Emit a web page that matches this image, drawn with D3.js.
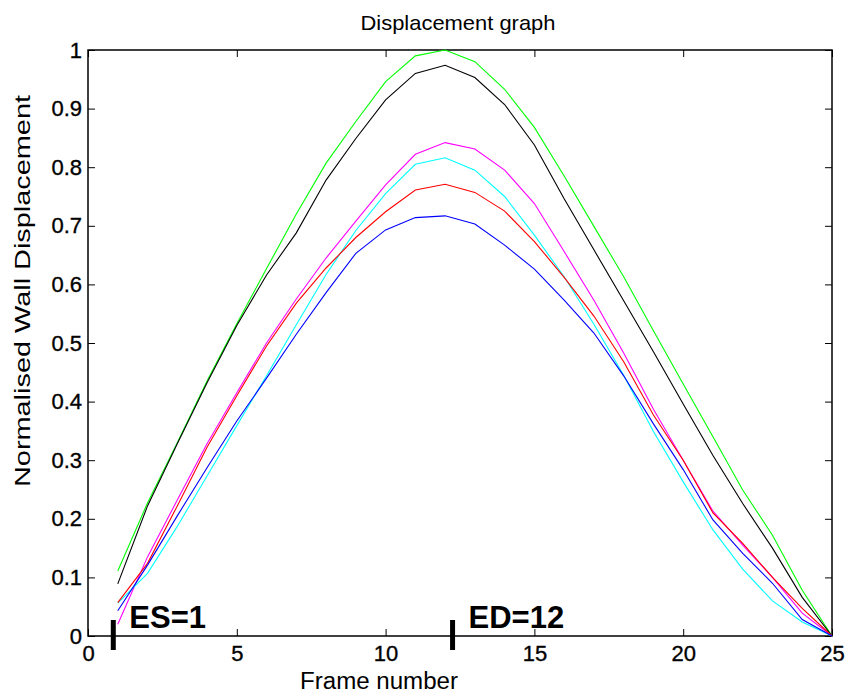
<!DOCTYPE html>
<html>
<head>
<meta charset="utf-8">
<script src="https://cdn.jsdelivr.net/npm/d3@7"></script>
<style>
  html, body { margin: 0; padding: 0; background: #fff; }
  svg { display: block; font-family: Arial, "Liberation Sans", sans-serif; }
</style>
</head>
<body>
<svg id="chart" width="846" height="696"></svg>
<script>
// Frame indices for the cardiac cycle
const frames = d3.range(1, 26);

// Normalised wall displacement per segment, one array per trace
const greenSeries   = [0.111, 0.227, 0.330, 0.435, 0.533, 0.627, 0.720, 0.807, 0.878, 0.946, 0.990, 1.000, 0.980, 0.933, 0.868, 0.785, 0.699, 0.613, 0.521, 0.430, 0.340, 0.249, 0.172, 0.078, 0.000];
const blackSeries   = [0.089, 0.222, 0.328, 0.432, 0.530, 0.616, 0.688, 0.778, 0.849, 0.915, 0.960, 0.974, 0.953, 0.907, 0.838, 0.746, 0.659, 0.572, 0.485, 0.396, 0.308, 0.226, 0.150, 0.066, 0.000];
const magentaSeries = [0.020, 0.135, 0.232, 0.328, 0.415, 0.500, 0.575, 0.645, 0.708, 0.770, 0.822, 0.842, 0.831, 0.795, 0.738, 0.656, 0.573, 0.483, 0.387, 0.300, 0.213, 0.155, 0.100, 0.039, 0.000];
const cyanSeries    = [0.056, 0.107, 0.187, 0.273, 0.359, 0.444, 0.531, 0.617, 0.692, 0.755, 0.805, 0.816, 0.795, 0.750, 0.684, 0.613, 0.532, 0.445, 0.349, 0.263, 0.181, 0.114, 0.060, 0.024, 0.000];
const redSeries     = [0.057, 0.124, 0.222, 0.322, 0.410, 0.495, 0.568, 0.628, 0.680, 0.724, 0.761, 0.771, 0.757, 0.725, 0.673, 0.612, 0.546, 0.468, 0.377, 0.300, 0.210, 0.158, 0.100, 0.047, 0.000];
const blueSeries    = [0.043, 0.121, 0.205, 0.287, 0.367, 0.440, 0.515, 0.586, 0.653, 0.693, 0.714, 0.717, 0.703, 0.667, 0.626, 0.573, 0.517, 0.444, 0.362, 0.284, 0.198, 0.141, 0.090, 0.028, 0.000];

const seriesColors = ["#00ff00", "#000000", "#ff00ff", "#00ffff", "#ff0000", "#0000ff"];
const seriesList = [greenSeries, blackSeries, magentaSeries, cyanSeries, redSeries, blueSeries];

// Axis ticks
const xTicks = [0, 5, 10, 15, 20, 25];
const yTicks = [0, 0.1, 0.2, 0.3, 0.4, 0.5, 0.6, 0.7, 0.8, 0.9, 1];

// End-systole / end-diastole annotations
const phaseLabels = ["ES=1", "ED=12"];
const phaseMarks = [0.85, 12.25];

const svg = d3.select("#chart");
const plotLeft = 88, plotRight = 832, plotTop = 50, plotBottom = 636;

const x = d3.scaleLinear().domain([0, 25]).range([plotLeft, plotRight]);
const y = d3.scaleLinear().domain([0, 1]).range([plotBottom, plotTop]);

const tickLen = 7;

// Bottom axis: ticks point inward, labels below
const xAxis = d3.axisBottom(x).tickValues(xTicks).tickFormat(d3.format("d"))
  .tickSizeInner(-tickLen).tickSizeOuter(0).tickPadding(9);
const gx = svg.append("g").attr("transform", `translate(0,${plotBottom})`).call(xAxis);
gx.selectAll("text").attr("font-size", 22).attr("fill", "#000")
  .attr("stroke", "#000").attr("stroke-width", 0.35);

const yAxis = d3.axisLeft(y).tickValues(yTicks).tickFormat(d => d === 0 || d === 1 ? String(d) : d3.format(".1f")(d))
  .tickSizeInner(-tickLen).tickSizeOuter(0).tickPadding(6);
const gy = svg.append("g").attr("transform", `translate(${plotLeft},0)`).call(yAxis);
gy.selectAll("text").attr("font-size", 22).attr("fill", "#000")
  .attr("stroke", "#000").attr("stroke-width", 0.35);

// Mirrored ticks on the top and right edges
svg.append("g").attr("transform", `translate(0,${plotTop})`)
  .call(d3.axisTop(x).tickValues(xTicks).tickSizeInner(-tickLen).tickSizeOuter(0).tickFormat(""));
svg.append("g").attr("transform", `translate(${plotRight},0)`)
  .call(d3.axisRight(y).tickValues(yTicks).tickSizeInner(-tickLen).tickSizeOuter(0).tickFormat(""));

svg.selectAll(".domain").remove();
svg.selectAll(".tick line").attr("stroke", "#000").attr("stroke-width", 1);

// Axes box
svg.append("rect")
  .attr("x", plotLeft).attr("y", plotTop)
  .attr("width", plotRight - plotLeft).attr("height", plotBottom - plotTop)
  .attr("fill", "none").attr("stroke", "#000").attr("stroke-width", 1.5);

// Displacement traces
const line = d3.line().x((d, i) => x(frames[i])).y(d => y(d));
svg.append("g").selectAll("path")
  .data(seriesList)
  .join("path")
  .attr("d", line)
  .attr("fill", "none")
  .attr("stroke", (d, i) => seriesColors[i])
  .attr("stroke-width", 1.1);

// Phase markers and their labels
svg.append("g").selectAll("line")
  .data(phaseMarks)
  .join("line")
  .attr("x1", d => x(d)).attr("x2", d => x(d))
  .attr("y1", plotBottom - 16).attr("y2", plotBottom + 14)
  .attr("stroke", "#000").attr("stroke-width", 5);

svg.append("g").selectAll("text")
  .data(phaseLabels)
  .join("text")
  .attr("x", (d, i) => x(phaseMarks[i]) + 16)
  .attr("y", plotBottom - 8)
  .attr("font-size", 31).attr("font-weight", "bold").attr("fill", "#000")
  .text(d => d);

// Title and axis labels
svg.append("text").attr("x", (plotLeft + plotRight) / 2 - 2).attr("y", 30)
  .attr("text-anchor", "middle").attr("font-size", 21).attr("fill", "#000")
  .attr("textLength", 195).attr("lengthAdjust", "spacingAndGlyphs")
  .text("Displacement graph");

svg.append("text").attr("x", 379).attr("y", 689)
  .attr("text-anchor", "middle").attr("font-size", 23).attr("fill", "#000")
  .attr("textLength", 158).attr("lengthAdjust", "spacingAndGlyphs")
  .text("Frame number");

svg.append("text")
  .attr("transform", `translate(30,${291}) rotate(-90)`)
  .attr("text-anchor", "middle").attr("font-size", 22).attr("fill", "#000")
  .attr("textLength", 392).attr("lengthAdjust", "spacingAndGlyphs")
  .text("Normalised Wall Displacement");
</script>
</body>
</html>
